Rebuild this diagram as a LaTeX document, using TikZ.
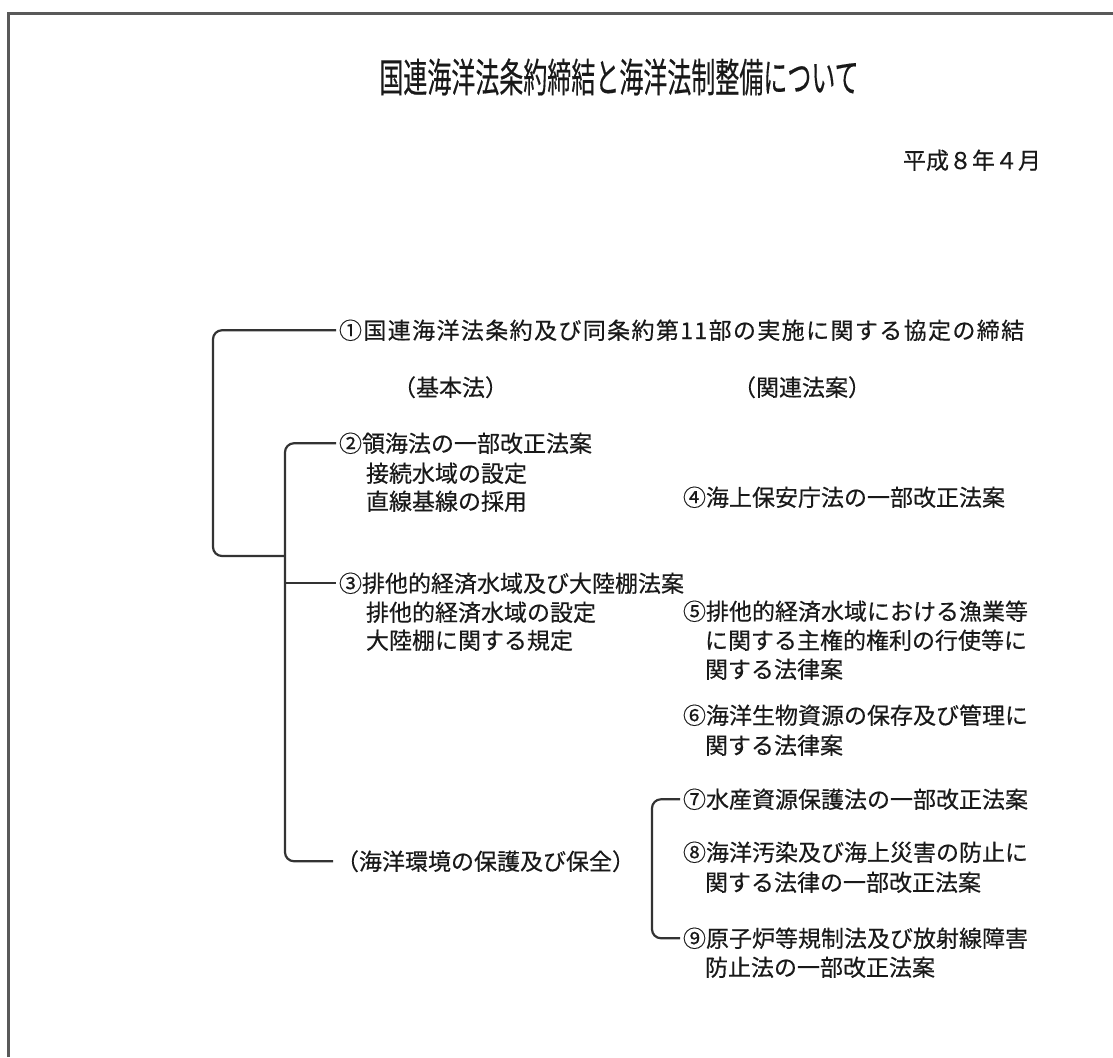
\documentclass[tikz,border=0pt]{standalone}
\usepackage{fontspec}
\usepackage{graphicx}
\setmainfont{Noto Sans CJK JP}[FakeBold=0.4]

\begin{document}
\begin{tikzpicture}[x=1pt,y=-1pt,
        txt/.style={anchor=base west,inner sep=0pt,outer sep=3pt,text=black!90,
                    font=\fontsize{23pt}{29pt}\selectfont},
        link/.style={draw=black!80,line width=2.2pt,rounded corners=9pt}]
        \useasboundingbox (0,0) rectangle (1113,1057);

        % draw the frame of the sheet
        \draw[black!65,line width=3pt] (8,1057) -- (8,14) -- (1113,14);

        % draw the title and the date
        \node[text=black!90] (title) at (619,77)
             {\fontsize{40pt}{40pt}\selectfont\scalebox{0.6}[1]{国連海洋法条約締結と海洋法制整備について}};
        \node[txt] (date) at (900,169) {平成８年４月};

        % the spines of the brackets
        \coordinate (spA) at (213,0);
        \coordinate (spB) at (285,0);
        \coordinate (spC) at (652,0);
        \coordinate (jn) at (285,556);

        % the left column
        \node[txt,font=\fontsize{23pt}{29pt}\selectfont\addfontfeature{LetterSpace=6}] (n1) at (336,339)
             {①国連海洋法条約及び同条約第11部の実施に関する協定の締結};
        \node[txt] (kihon) at (390,396) {（基本法）};
        \node[txt] (n2) at (336,452) {②領海法の一部改正法案};
        \node[txt] (n3) at (336,592) {③排他的経済水域及び大陸棚法案};
        \node[txt] (env) at (333,870) {（海洋環境の保護及び保全）};
        \foreach \nm/\y/\t in {
            n2a/482/接続水域の設定,
            n2b/510/直線基線の採用,
            n3a/621/排他的経済水域の設定,
            n3b/649/大陸棚に関する規定}
                \node[txt] (\nm) at (363,\y) {\t};

        % the right column
        \node[txt] (kanren) at (730,396) {（関連法案）};
        \node[txt] (n4) at (680,506) {④海上保安庁法の一部改正法案};
        \node[txt] (n5) at (680,620) {⑤排他的経済水域における漁業等};
        \node[txt] (n6) at (680,724) {⑥海洋生物資源の保存及び管理に};
        \node[txt] (n7) at (680,808) {⑦水産資源保護法の一部改正法案};
        \node[txt] (n8) at (680,861) {⑧海洋汚染及び海上災害の防止に};
        \node[txt] (n9) at (680,947) {⑨原子炉等規制法及び放射線障害};
        \foreach \nm/\y/\t in {
            n5a/649/に関する主権的権利の行使等に,
            n5b/678/関する法律案,
            n6a/754/関する法律案,
            n8a/891/関する法律の一部改正法案,
            n9a/976/防止法の一部改正法案}
                \node[txt] (\nm) at (702,\y) {\t};

        % draw the brackets
        \draw[link] (n1.west) -| (spA |- jn) -- (jn);
        \draw[link] (n2.west) -| (spB |- env.west) -- (env.west);
        \draw[link] (spB |- n3.west) -- (n3.west);
        \draw[link] (n7.west) -| (spC |- n9.west) -- (n9.west);
\end{tikzpicture}
\end{document}
